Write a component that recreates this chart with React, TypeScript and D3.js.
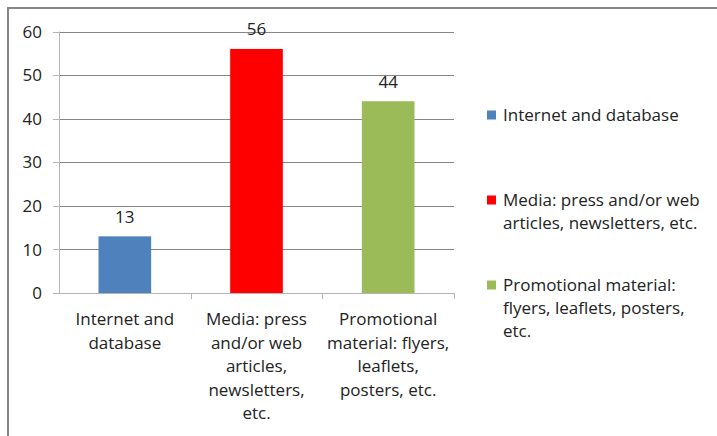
import * as d3 from 'd3';
import { useEffect, useRef } from 'react';

const categories = ['Internet and database', 'Media: press and/or web articles, newsletters, etc.', 'Promotional material: flyers, leaflets, posters, etc.'];
const values = [13, 56, 44];
const colors = ['#4F81BD', '#FF0000', '#9BBB59'];
const yTicks = [0, 10, 20, 30, 40, 50, 60];

// how the labels wrap in the original
const categoryLines = [
    ['Internet and', 'database'],
    ['Media: press', 'and/or web', 'articles,', 'newsletters,', 'etc.'],
    ['Promotional', 'material: flyers,', 'leaflets,', 'posters, etc.'],
];
const legendLines = [
    ['Internet and database'],
    ['Media: press and/or web', 'articles, newsletters, etc.'],
    ['Promotional material:', 'flyers, leaflets, posters,', 'etc.'],
];

const width = 717;
const height = 436;
const font = '"Open Sans", Lato, sans-serif';

const App = () => {
    const ref = useRef<SVGSVGElement | null>(null);

    useEffect(() => {
        const svg = d3.select(ref.current);
        svg.selectAll('*').remove();

        // frame (top + left edges only are visible)
        svg.append('path')
            .attr('d', `M8,${height} L8,8 L${width},8`)
            .attr('fill', 'none')
            .attr('stroke', '#868686')
            .attr('stroke-width', 2);

        const x = d3.scaleBand<string>()
            .domain(categories)
            .range([59, 454])
            .paddingInner(0.6)
            .paddingOuter(0.3);

        const xEdges = d3.scaleBand<string>()
            .domain(categories)
            .range([59, 454]);

        const y = d3.scaleLinear()
            .domain([0, 60])
            .range([293, 31.5]);

        const g = svg.append('g');

        // gridlines
        g.selectAll('.grid')
            .data(yTicks.filter(t => t > 0))
            .enter()
            .append('line')
            .attr('x1', 59)
            .attr('x2', 454)
            .attr('y1', d => Math.round(y(d)) + 0.5)
            .attr('y2', d => Math.round(y(d)) + 0.5)
            .attr('stroke', '#868686');

        // y axis
        g.append('line')
            .attr('x1', 59.5).attr('x2', 59.5)
            .attr('y1', y(60)).attr('y2', y(0))
            .attr('stroke', '#b4b4b4');

        g.selectAll('.ytick')
            .data(yTicks)
            .enter()
            .append('line')
            .attr('x1', 53)
            .attr('x2', 59)
            .attr('y1', d => Math.round(y(d)) + 0.5)
            .attr('y2', d => Math.round(y(d)) + 0.5)
            .attr('stroke', '#b4b4b4');

        g.selectAll('.ylabel')
            .data(yTicks)
            .enter()
            .append('text')
            .attr('x', 42)
            .attr('y', d => y(d))
            .attr('dy', '0.36em')
            .attr('text-anchor', 'end')
            .attr('font-family', font)
            .attr('font-size', 17)
            .attr('fill', '#222')
            .text(d => d);

        // bars
        g.selectAll('.bar')
            .data(values)
            .enter()
            .append('rect')
            .attr('x', (d, i) => x(categories[i])!)
            .attr('width', x.bandwidth())
            .attr('y', d => y(d))
            .attr('height', d => y(0) - y(d))
            .attr('fill', (d, i) => colors[i]);

        // x axis
        g.append('line')
            .attr('x1', 59).attr('x2', 454)
            .attr('y1', Math.round(y(0)) + 0.5).attr('y2', Math.round(y(0)) + 0.5)
            .attr('stroke', '#b4b4b4');

        const edges = categories.map(c => xEdges(c)! + xEdges.bandwidth());
        g.selectAll('.xtick')
            .data(edges)
            .enter()
            .append('line')
            .attr('x1', d => Math.round(d) + 0.5)
            .attr('x2', d => Math.round(d) + 0.5)
            .attr('y1', y(0))
            .attr('y2', y(0) + 6)
            .attr('stroke', '#b4b4b4');

        // value labels
        g.selectAll('.val')
            .data(values)
            .enter()
            .append('text')
            .attr('x', (d, i) => x(categories[i])! + x.bandwidth() / 2)
            .attr('y', d => y(d) - 13.5)
            .attr('text-anchor', 'middle')
            .attr('font-family', font)
            .attr('font-size', 17)
            .attr('fill', '#222')
            .text(d => d);

        // category labels
        categoryLines.forEach((lines, i) => {
            const cx = xEdges(categories[i])! + xEdges.bandwidth() / 2;
            const t = g.append('text')
                .attr('text-anchor', 'middle')
                .attr('font-family', font)
                .attr('font-size', 17)
                .attr('fill', '#222');
            lines.forEach((ln, k) => {
                t.append('tspan')
                    .attr('x', cx)
                    .attr('y', 325 + k * 23.6)
                    .text(ln);
            });
        });

        // legend
        const legendY = [115, 200, 285];
        legendLines.forEach((lines, i) => {
            svg.append('rect')
                .attr('x', 487)
                .attr('y', legendY[i] - 4.5)
                .attr('width', 9)
                .attr('height', 9)
                .attr('fill', colors[i]);
            const t = svg.append('text')
                .attr('font-family', font)
                .attr('font-size', 17)
                .attr('fill', '#222');
            lines.forEach((ln, k) => {
                t.append('tspan')
                    .attr('x', 503)
                    .attr('y', legendY[i] + 6 + k * 23)
                    .text(ln);
            });
        });
    }, []);

    return (
        <svg ref={ref} width={width} height={height}
            style={{ position: 'absolute', left: 0, top: 0, background: '#fff' }} />
    );
};

export default App;
